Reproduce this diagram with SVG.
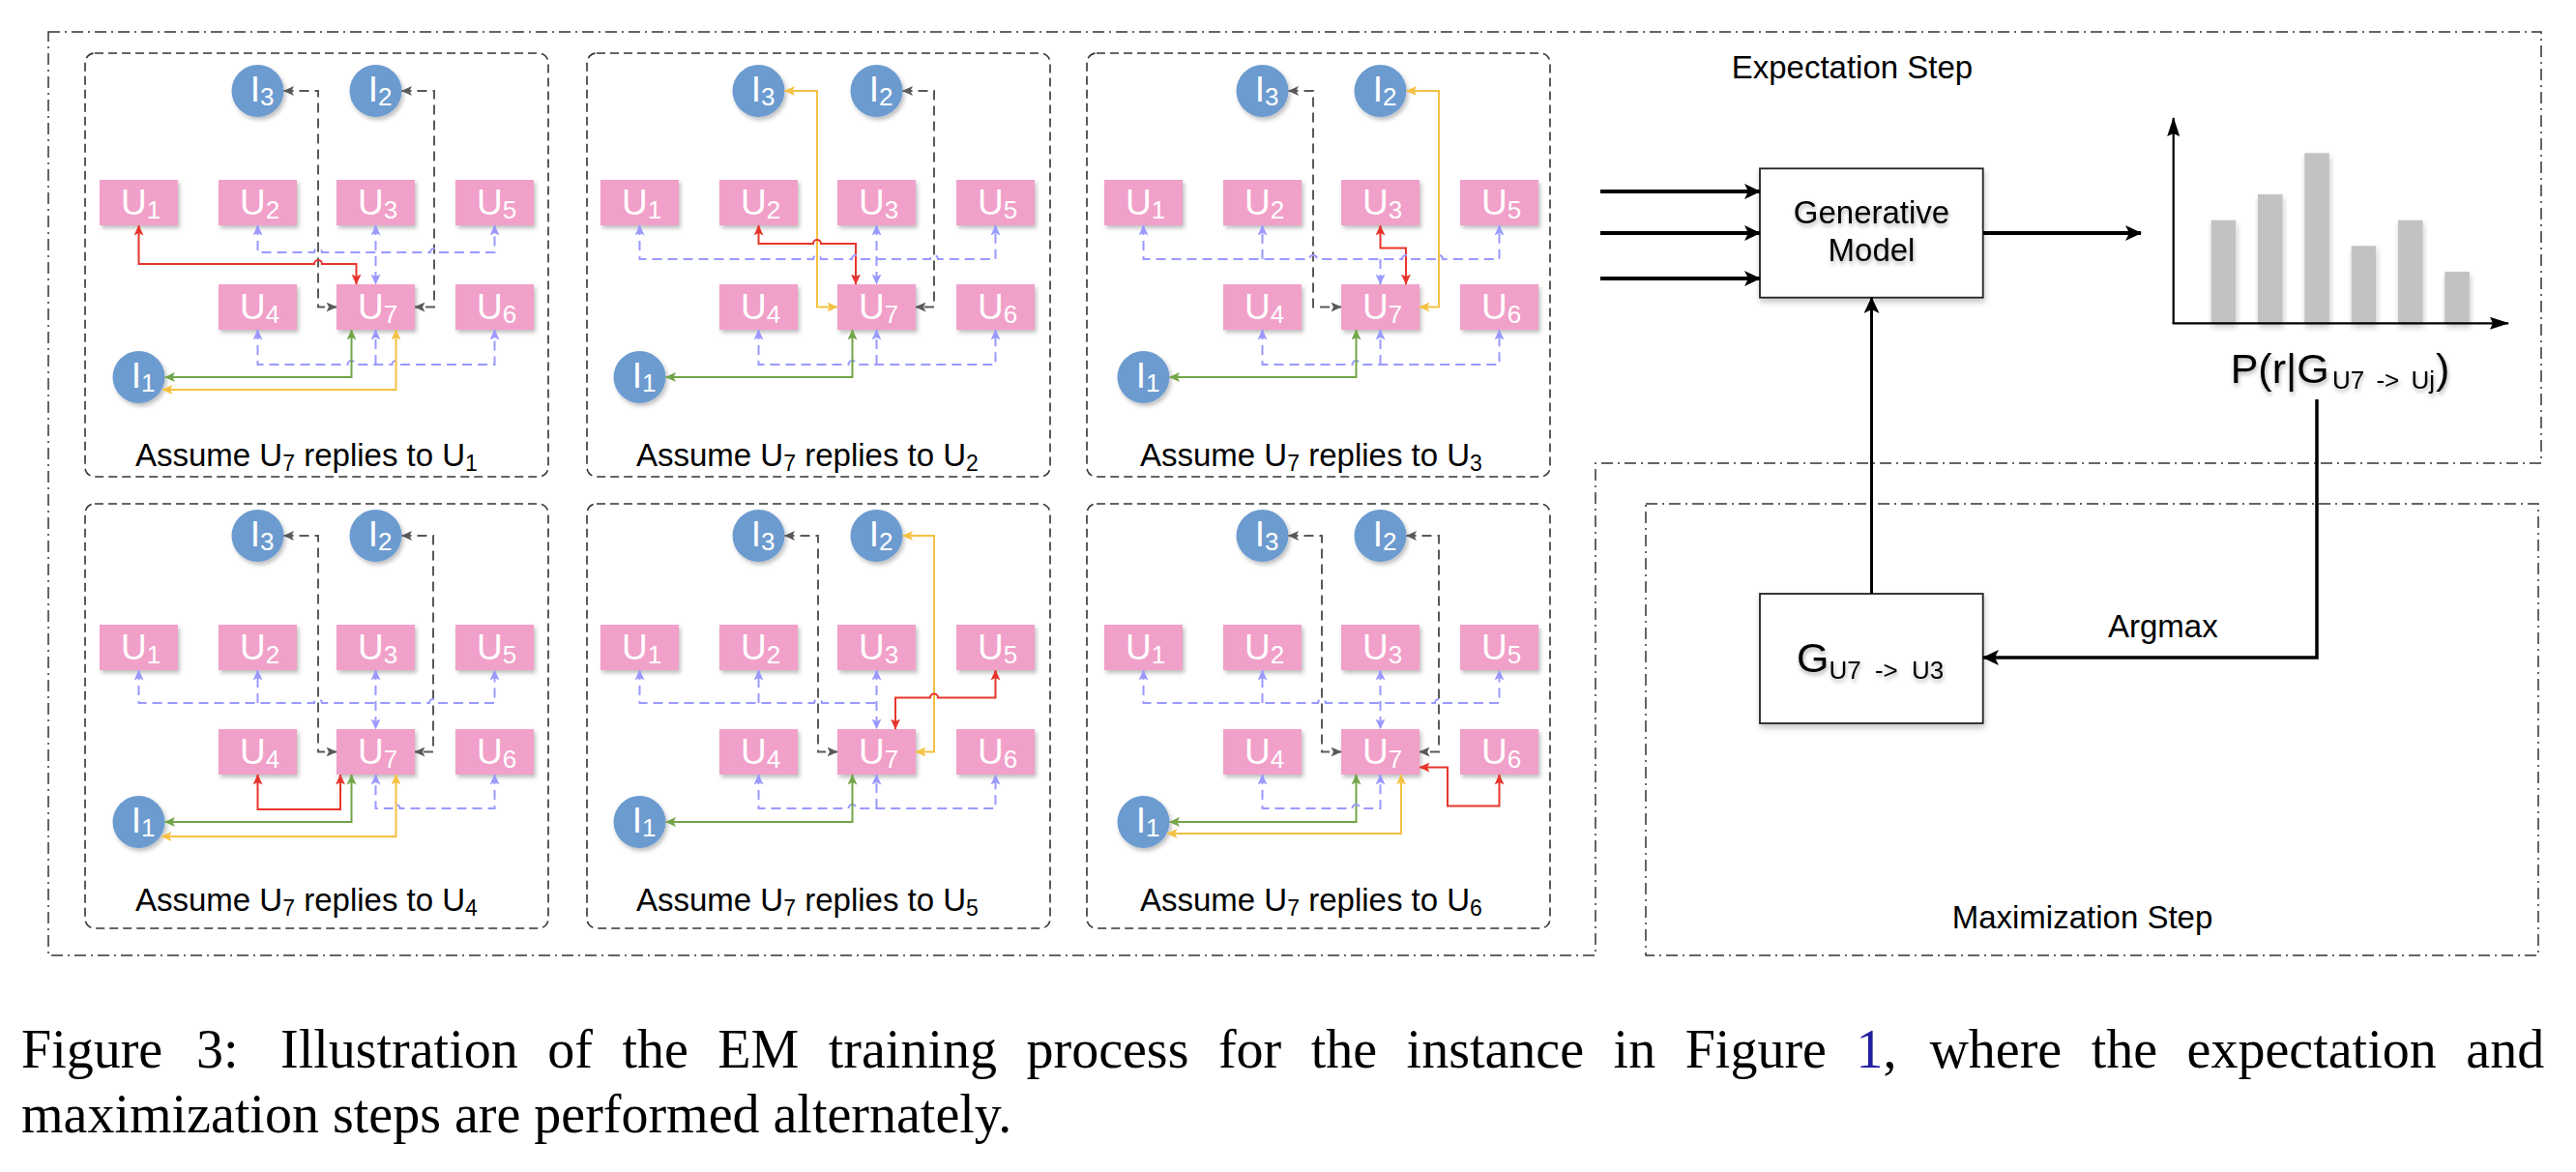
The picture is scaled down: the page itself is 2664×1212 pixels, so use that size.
<svg xmlns="http://www.w3.org/2000/svg" width="2664" height="1212" viewBox="0 0 2664 1212">
<defs>
<style>
text{font-family:"Liberation Sans",Arial,Helvetica,sans-serif}
.u rect{fill:#F1A0C9;filter:url(#sh)}
.i circle{fill:#6C9BD0;filter:url(#sh)}
.u text,.i text{fill:#fff;font-size:37px;text-anchor:middle}
.s{font-size:26px}
.lb{font-size:33px;fill:#000}
.ls{font-size:23px}
.pf{fill:none;stroke:#333;stroke-width:1.6;stroke-dasharray:9 5}
.dd{fill:none;stroke:#333;stroke-width:1.5;stroke-dasharray:12 5 2 5}
path.e{fill:none;stroke-width:2}
.bl{stroke:#9999FF;stroke-dasharray:10 6;marker-start:url(#m-bl);marker-end:url(#m-bl)}
.gr{stroke:#595959;stroke-dasharray:10 6;marker-start:url(#m-gr);marker-end:url(#m-gr)}
.rd{stroke:#E8352B;marker-start:url(#m-rd);marker-end:url(#m-rd)}
.gn{stroke:#72A548;marker-start:url(#m-gn);marker-end:url(#m-gn)}
.yl{stroke:#F5C142;marker-start:url(#m-yl);marker-end:url(#m-yl)}
path.eo{marker-start:none}
path.so{marker-end:none}
.bx{fill:#fff;stroke:#222;stroke-width:1.8;filter:url(#bsh)}
.bar{fill:#C2C2C2;filter:url(#bsh)}
.rt{font-size:33px;fill:#000}
.ts{filter:url(#tsh)}
.k{fill:none;stroke:#000}
.cap{font-family:"Liberation Serif","Times New Roman",Times,serif;font-size:56px;fill:#000}
</style>
<filter id="sh" x="-20%" y="-20%" width="150%" height="160%"><feDropShadow dx="2" dy="3" stdDeviation="2" flood-color="#000" flood-opacity="0.25"/></filter>
<filter id="bsh" x="-10%" y="-10%" width="130%" height="130%"><feDropShadow dx="1" dy="4" stdDeviation="3" flood-color="#000" flood-opacity="0.22"/></filter>
<filter id="tsh" x="-10%" y="-20%" width="130%" height="160%"><feDropShadow dx="1" dy="3" stdDeviation="2" flood-color="#000" flood-opacity="0.3"/></filter>
<marker id="m-bl" viewBox="0 0 11 10" refX="10.5" refY="5" markerWidth="11" markerHeight="10" markerUnits="userSpaceOnUse" orient="auto-start-reverse"><path d="M0,0 L11,5 L0,10 L2.5,5 Z" fill="#9999FF"/></marker>
<marker id="m-gr" viewBox="0 0 11 10" refX="10.5" refY="5" markerWidth="11" markerHeight="10" markerUnits="userSpaceOnUse" orient="auto-start-reverse"><path d="M0,0 L11,5 L0,10 L2.5,5 Z" fill="#595959"/></marker>
<marker id="m-rd" viewBox="0 0 11 10" refX="10.5" refY="5" markerWidth="11" markerHeight="10" markerUnits="userSpaceOnUse" orient="auto-start-reverse"><path d="M0,0 L11,5 L0,10 L2.5,5 Z" fill="#E8352B"/></marker>
<marker id="m-gn" viewBox="0 0 11 10" refX="10.5" refY="5" markerWidth="11" markerHeight="10" markerUnits="userSpaceOnUse" orient="auto-start-reverse"><path d="M0,0 L11,5 L0,10 L2.5,5 Z" fill="#72A548"/></marker>
<marker id="m-yl" viewBox="0 0 11 10" refX="10.5" refY="5" markerWidth="11" markerHeight="10" markerUnits="userSpaceOnUse" orient="auto-start-reverse"><path d="M0,0 L11,5 L0,10 L2.5,5 Z" fill="#F5C142"/></marker>
<marker id="m-k" viewBox="0 0 17 16" refX="16" refY="8" markerWidth="17" markerHeight="16" markerUnits="userSpaceOnUse" orient="auto"><path d="M0,0 L17,8 L0,16 L4,8 Z" fill="#000"/></marker>
<marker id="m-ax" viewBox="0 0 20 13" refX="19" refY="6.5" markerWidth="20" markerHeight="13" markerUnits="userSpaceOnUse" orient="auto"><path d="M0,0 L20,6.5 L0,13 L3,6.5 Z" fill="#000"/></marker>
</defs>

<rect width="2664" height="1212" fill="#fff"/>

<g id="frames">
<path class="dd" d="M50,33 H2628 V479 H1650 V988 H50 Z"/>
<rect class="dd" x="1702" y="521" width="923" height="467"/>
<rect class="pf" x="88" y="55" width="479" height="438" rx="10"/>
<rect class="pf" x="607" y="55" width="479" height="438" rx="10"/>
<rect class="pf" x="1124" y="55" width="479" height="438" rx="10"/>
<rect class="pf" x="88" y="521" width="479" height="439" rx="10"/>
<rect class="pf" x="607" y="521" width="479" height="439" rx="10"/>
<rect class="pf" x="1124" y="521" width="479" height="439" rx="10"/>
</g>

<g id="panel1" transform="translate(88,55)">
<g id="p1-I3" class="i"><circle cx="178.5" cy="39" r="27"/><text x="183" y="50">I<tspan class="s" dy="4">3</tspan></text></g>
<g id="p1-I2" class="i"><circle cx="300.5" cy="39" r="27"/><text x="305" y="50">I<tspan class="s" dy="4">2</tspan></text></g>
<g id="p1-I1" class="i"><circle cx="55.5" cy="335" r="27"/><text x="60" y="346">I<tspan class="s" dy="4">1</tspan></text></g>
<g id="p1-U1" class="u"><rect x="15" y="131" width="81" height="47"/><text x="57.5" y="166.7">U<tspan class="s" dy="4">1</tspan></text></g>
<g id="p1-U2" class="u"><rect x="138" y="131" width="81" height="47"/><text x="180.5" y="166.7">U<tspan class="s" dy="4">2</tspan></text></g>
<g id="p1-U3" class="u"><rect x="260" y="131" width="81" height="47"/><text x="302.5" y="166.7">U<tspan class="s" dy="4">3</tspan></text></g>
<g id="p1-U5" class="u"><rect x="383" y="131" width="81" height="47"/><text x="425.5" y="166.7">U<tspan class="s" dy="4">5</tspan></text></g>
<g id="p1-U4" class="u"><rect x="138" y="239" width="81" height="47"/><text x="180.5" y="274.7">U<tspan class="s" dy="4">4</tspan></text></g>
<g id="p1-U7" class="u"><rect x="260" y="239" width="81" height="47"/><text x="302.5" y="274.7">U<tspan class="s" dy="4">7</tspan></text></g>
<g id="p1-U6" class="u"><rect x="383" y="239" width="81" height="47"/><text x="425.5" y="274.7">U<tspan class="s" dy="4">6</tspan></text></g>
<text class="lb" x="52" y="426.7">Assume U<tspan class="ls" dy="5">7</tspan><tspan dy="-5"> replies to U</tspan><tspan class="ls" dy="5">1</tspan></text>
</g>

<g id="panel2" transform="translate(606,55)">
<g id="p2-I3" class="i"><circle cx="178.5" cy="39" r="27"/><text x="183" y="50">I<tspan class="s" dy="4">3</tspan></text></g>
<g id="p2-I2" class="i"><circle cx="300.5" cy="39" r="27"/><text x="305" y="50">I<tspan class="s" dy="4">2</tspan></text></g>
<g id="p2-I1" class="i"><circle cx="55.5" cy="335" r="27"/><text x="60" y="346">I<tspan class="s" dy="4">1</tspan></text></g>
<g id="p2-U1" class="u"><rect x="15" y="131" width="81" height="47"/><text x="57.5" y="166.7">U<tspan class="s" dy="4">1</tspan></text></g>
<g id="p2-U2" class="u"><rect x="138" y="131" width="81" height="47"/><text x="180.5" y="166.7">U<tspan class="s" dy="4">2</tspan></text></g>
<g id="p2-U3" class="u"><rect x="260" y="131" width="81" height="47"/><text x="302.5" y="166.7">U<tspan class="s" dy="4">3</tspan></text></g>
<g id="p2-U5" class="u"><rect x="383" y="131" width="81" height="47"/><text x="425.5" y="166.7">U<tspan class="s" dy="4">5</tspan></text></g>
<g id="p2-U4" class="u"><rect x="138" y="239" width="81" height="47"/><text x="180.5" y="274.7">U<tspan class="s" dy="4">4</tspan></text></g>
<g id="p2-U7" class="u"><rect x="260" y="239" width="81" height="47"/><text x="302.5" y="274.7">U<tspan class="s" dy="4">7</tspan></text></g>
<g id="p2-U6" class="u"><rect x="383" y="239" width="81" height="47"/><text x="425.5" y="274.7">U<tspan class="s" dy="4">6</tspan></text></g>
<text class="lb" x="52" y="426.7">Assume U<tspan class="ls" dy="5">7</tspan><tspan dy="-5"> replies to U</tspan><tspan class="ls" dy="5">2</tspan></text>
</g>

<g id="panel3" transform="translate(1127,55)">
<g id="p3-I3" class="i"><circle cx="178.5" cy="39" r="27"/><text x="183" y="50">I<tspan class="s" dy="4">3</tspan></text></g>
<g id="p3-I2" class="i"><circle cx="300.5" cy="39" r="27"/><text x="305" y="50">I<tspan class="s" dy="4">2</tspan></text></g>
<g id="p3-I1" class="i"><circle cx="55.5" cy="335" r="27"/><text x="60" y="346">I<tspan class="s" dy="4">1</tspan></text></g>
<g id="p3-U1" class="u"><rect x="15" y="131" width="81" height="47"/><text x="57.5" y="166.7">U<tspan class="s" dy="4">1</tspan></text></g>
<g id="p3-U2" class="u"><rect x="138" y="131" width="81" height="47"/><text x="180.5" y="166.7">U<tspan class="s" dy="4">2</tspan></text></g>
<g id="p3-U3" class="u"><rect x="260" y="131" width="81" height="47"/><text x="302.5" y="166.7">U<tspan class="s" dy="4">3</tspan></text></g>
<g id="p3-U5" class="u"><rect x="383" y="131" width="81" height="47"/><text x="425.5" y="166.7">U<tspan class="s" dy="4">5</tspan></text></g>
<g id="p3-U4" class="u"><rect x="138" y="239" width="81" height="47"/><text x="180.5" y="274.7">U<tspan class="s" dy="4">4</tspan></text></g>
<g id="p3-U7" class="u"><rect x="260" y="239" width="81" height="47"/><text x="302.5" y="274.7">U<tspan class="s" dy="4">7</tspan></text></g>
<g id="p3-U6" class="u"><rect x="383" y="239" width="81" height="47"/><text x="425.5" y="274.7">U<tspan class="s" dy="4">6</tspan></text></g>
<text class="lb" x="52" y="426.7">Assume U<tspan class="ls" dy="5">7</tspan><tspan dy="-5"> replies to U</tspan><tspan class="ls" dy="5">3</tspan></text>
</g>

<g id="panel4" transform="translate(88,515)">
<g id="p4-I3" class="i"><circle cx="178.5" cy="39" r="27"/><text x="183" y="50">I<tspan class="s" dy="4">3</tspan></text></g>
<g id="p4-I2" class="i"><circle cx="300.5" cy="39" r="27"/><text x="305" y="50">I<tspan class="s" dy="4">2</tspan></text></g>
<g id="p4-I1" class="i"><circle cx="55.5" cy="335" r="27"/><text x="60" y="346">I<tspan class="s" dy="4">1</tspan></text></g>
<g id="p4-U1" class="u"><rect x="15" y="131" width="81" height="47"/><text x="57.5" y="166.7">U<tspan class="s" dy="4">1</tspan></text></g>
<g id="p4-U2" class="u"><rect x="138" y="131" width="81" height="47"/><text x="180.5" y="166.7">U<tspan class="s" dy="4">2</tspan></text></g>
<g id="p4-U3" class="u"><rect x="260" y="131" width="81" height="47"/><text x="302.5" y="166.7">U<tspan class="s" dy="4">3</tspan></text></g>
<g id="p4-U5" class="u"><rect x="383" y="131" width="81" height="47"/><text x="425.5" y="166.7">U<tspan class="s" dy="4">5</tspan></text></g>
<g id="p4-U4" class="u"><rect x="138" y="239" width="81" height="47"/><text x="180.5" y="274.7">U<tspan class="s" dy="4">4</tspan></text></g>
<g id="p4-U7" class="u"><rect x="260" y="239" width="81" height="47"/><text x="302.5" y="274.7">U<tspan class="s" dy="4">7</tspan></text></g>
<g id="p4-U6" class="u"><rect x="383" y="239" width="81" height="47"/><text x="425.5" y="274.7">U<tspan class="s" dy="4">6</tspan></text></g>
<text class="lb" x="52" y="426.7">Assume U<tspan class="ls" dy="5">7</tspan><tspan dy="-5"> replies to U</tspan><tspan class="ls" dy="5">4</tspan></text>
</g>

<g id="panel5" transform="translate(606,515)">
<g id="p5-I3" class="i"><circle cx="178.5" cy="39" r="27"/><text x="183" y="50">I<tspan class="s" dy="4">3</tspan></text></g>
<g id="p5-I2" class="i"><circle cx="300.5" cy="39" r="27"/><text x="305" y="50">I<tspan class="s" dy="4">2</tspan></text></g>
<g id="p5-I1" class="i"><circle cx="55.5" cy="335" r="27"/><text x="60" y="346">I<tspan class="s" dy="4">1</tspan></text></g>
<g id="p5-U1" class="u"><rect x="15" y="131" width="81" height="47"/><text x="57.5" y="166.7">U<tspan class="s" dy="4">1</tspan></text></g>
<g id="p5-U2" class="u"><rect x="138" y="131" width="81" height="47"/><text x="180.5" y="166.7">U<tspan class="s" dy="4">2</tspan></text></g>
<g id="p5-U3" class="u"><rect x="260" y="131" width="81" height="47"/><text x="302.5" y="166.7">U<tspan class="s" dy="4">3</tspan></text></g>
<g id="p5-U5" class="u"><rect x="383" y="131" width="81" height="47"/><text x="425.5" y="166.7">U<tspan class="s" dy="4">5</tspan></text></g>
<g id="p5-U4" class="u"><rect x="138" y="239" width="81" height="47"/><text x="180.5" y="274.7">U<tspan class="s" dy="4">4</tspan></text></g>
<g id="p5-U7" class="u"><rect x="260" y="239" width="81" height="47"/><text x="302.5" y="274.7">U<tspan class="s" dy="4">7</tspan></text></g>
<g id="p5-U6" class="u"><rect x="383" y="239" width="81" height="47"/><text x="425.5" y="274.7">U<tspan class="s" dy="4">6</tspan></text></g>
<text class="lb" x="52" y="426.7">Assume U<tspan class="ls" dy="5">7</tspan><tspan dy="-5"> replies to U</tspan><tspan class="ls" dy="5">5</tspan></text>
</g>

<g id="panel6" transform="translate(1127,515)">
<g id="p6-I3" class="i"><circle cx="178.5" cy="39" r="27"/><text x="183" y="50">I<tspan class="s" dy="4">3</tspan></text></g>
<g id="p6-I2" class="i"><circle cx="300.5" cy="39" r="27"/><text x="305" y="50">I<tspan class="s" dy="4">2</tspan></text></g>
<g id="p6-I1" class="i"><circle cx="55.5" cy="335" r="27"/><text x="60" y="346">I<tspan class="s" dy="4">1</tspan></text></g>
<g id="p6-U1" class="u"><rect x="15" y="131" width="81" height="47"/><text x="57.5" y="166.7">U<tspan class="s" dy="4">1</tspan></text></g>
<g id="p6-U2" class="u"><rect x="138" y="131" width="81" height="47"/><text x="180.5" y="166.7">U<tspan class="s" dy="4">2</tspan></text></g>
<g id="p6-U3" class="u"><rect x="260" y="131" width="81" height="47"/><text x="302.5" y="166.7">U<tspan class="s" dy="4">3</tspan></text></g>
<g id="p6-U5" class="u"><rect x="383" y="131" width="81" height="47"/><text x="425.5" y="166.7">U<tspan class="s" dy="4">5</tspan></text></g>
<g id="p6-U4" class="u"><rect x="138" y="239" width="81" height="47"/><text x="180.5" y="274.7">U<tspan class="s" dy="4">4</tspan></text></g>
<g id="p6-U7" class="u"><rect x="260" y="239" width="81" height="47"/><text x="302.5" y="274.7">U<tspan class="s" dy="4">7</tspan></text></g>
<g id="p6-U6" class="u"><rect x="383" y="239" width="81" height="47"/><text x="425.5" y="274.7">U<tspan class="s" dy="4">6</tspan></text></g>
<text class="lb" x="52" y="426.7">Assume U<tspan class="ls" dy="5">7</tspan><tspan dy="-5"> replies to U</tspan><tspan class="ls" dy="5">6</tspan></text>
</g>

<g id="gen-model"><rect class="bx" x="1820" y="174.3" width="230.7" height="133.4"/><g class="ts"><text class="rt" x="1935.5" y="230.7" text-anchor="middle">Generative</text><text class="rt" x="1935.5" y="270" text-anchor="middle">Model</text></g></g>
<g id="g-box"><rect class="bx" x="1820" y="614" width="230.7" height="134"/><text class="ts" x="1858" y="695.3" font-size="43">G<tspan font-size="26" dy="6.7" word-spacing="7">U7 -&gt; U3</tspan></text></g>
<g id="chart">
<rect class="bar" x="2286.7" y="227.7" width="25.5" height="106.6"/>
<rect class="bar" x="2335" y="201" width="25.5" height="133.3"/>
<rect class="bar" x="2383.3" y="158.3" width="25.5" height="176"/>
<rect class="bar" x="2431.7" y="254.3" width="25.5" height="80"/>
<rect class="bar" x="2480" y="227.7" width="25.5" height="106.6"/>
<rect class="bar" x="2528.3" y="281" width="25.5" height="53.3"/>
<path class="k" stroke-width="2.2" d="M2247.7,334.3 V122" marker-end="url(#m-ax)"/>
<path class="k" stroke-width="2.2" d="M2246.6,334.3 H2594" marker-end="url(#m-ax)"/>
</g>
<g id="p-label"><text class="ts" x="2306.7" y="396" font-size="43">P(r|G<tspan x="2412" dy="5.7" font-size="26" word-spacing="5">U7 -&gt; Uj</tspan><tspan x="2519" dy="-5.7">)</tspan></text></g>
<g id="e-step-label"><text class="rt" x="1790.7" y="80.7">Expectation Step</text></g>
<g id="m-step-label"><text class="rt" x="2018.7" y="960" font-size="33.5">Maximization Step</text></g>
<g id="argmax-label"><text class="rt" x="2180" y="659">Argmax</text></g>

<g id="connectors">
<g id="p1-edges" transform="translate(88,55)">
<path class="e gr" d="M205.5,39 H241 V262.5 H260"/>
<path class="e gr" d="M327.5,39 H361 V262.5 H341"/>
<path class="e bl" d="M178.5,178 V206 H237 a4,4 0 0 1 8,0 H357 a4,4 0 0 1 8,0 H423.5 V178"/>
<path class="e bl" d="M300.5,178 V239"/>
<path class="e bl" d="M178.5,286 V322 H271.5 a4,4 0 0 1 8,0 H317.5 a4,4 0 0 1 8,0 H423.5 V286"/>
<path class="e bl eo" d="M300.5,322 V286"/>
<path class="e rd" d="M55.5,178 V218 H237 a4,4 0 0 1 8,0 H280.5 V239"/>
<path class="e gn" d="M275.5,286 V335 H82.5"/>
<path class="e yl" d="M321.5,286 V348 H80"/>
</g>
<g id="p2-edges" transform="translate(606,55)">
<path class="e yl" d="M205.5,39 H239 V262.5 H260"/>
<path class="e gr" d="M327.5,39 H360 V262.5 H341"/>
<path class="e rd" d="M178.5,178 V197 H235 a4,4 0 0 1 8,0 H279 V239"/>
<path class="e bl" d="M55.5,178 V213 H235 a4,4 0 0 1 8,0 H275 a4,4 0 0 1 8,0 H356 a4,4 0 0 1 8,0 H423.5 V178"/>
<path class="e bl" d="M300.5,178 V239"/>
<path class="e bl" d="M178.5,286 V322 H271.5 a4,4 0 0 1 8,0 H423.5 V286"/>
<path class="e bl eo" d="M300.5,322 V286"/>
<path class="e gn" d="M275.5,286 V335 H82.5"/>
</g>
<g id="p3-edges" transform="translate(1127,55)">
<path class="e gr" d="M205.5,39 H231 V262.5 H260"/>
<path class="e yl" d="M327.5,39 H361 V262.5 H341"/>
<path class="e rd" d="M300.5,178 V201.5 H327 V239"/>
<path class="e bl" d="M55.5,178 V213 H227 a4,4 0 0 1 8,0 H323 a4,4 0 0 1 8,0 H357 a4,4 0 0 1 8,0 H423.5 V178"/>
<path class="e bl eo" d="M178.5,213 V178"/>
<path class="e bl eo" d="M300.5,213 V239"/>
<path class="e bl" d="M178.5,286 V322 H271.5 a4,4 0 0 1 8,0 H423.5 V286"/>
<path class="e bl eo" d="M300.5,322 V286"/>
<path class="e gn" d="M275.5,286 V335 H82.5"/>
</g>
<g id="p4-edges" transform="translate(88,515)">
<path class="e gr" d="M205.5,39 H241 V262.5 H260"/>
<path class="e gr" d="M327.5,39 H360 V262.5 H341"/>
<path class="e bl" d="M55.5,178 V212 H237 a4,4 0 0 1 8,0 H356 a4,4 0 0 1 8,0 H423.5 V178"/>
<path class="e bl eo" d="M178.5,212 V178"/>
<path class="e bl" d="M300.5,178 V239"/>
<path class="e rd" d="M178.5,286 V322 H264 V286"/>
<path class="e gn" d="M275.5,286 V335 H82.5"/>
<path class="e yl" d="M321.5,286 V350 H79"/>
<path class="e bl" d="M423.5,286 V321 H325.5 a4,4 0 0 0 -8,0 H300.5 V286"/>
</g>
<g id="p5-edges" transform="translate(606,515)">
<path class="e gr" d="M205.5,39 H240 V262.5 H260"/>
<path class="e yl" d="M327.5,39 H360 V262.5 H341"/>
<path class="e rd" d="M423.5,178 V206.5 H364 a4,4 0 0 0 -8,0 H320 V239"/>
<path class="e bl so" d="M55.5,178 V212 H236 a4,4 0 0 1 8,0 H300.5"/>
<path class="e bl eo" d="M178.5,212 V178"/>
<path class="e bl" d="M300.5,178 V239"/>
<path class="e bl" d="M178.5,286 V321 H271.5 a4,4 0 0 1 8,0 H423.5 V286"/>
<path class="e bl eo" d="M300.5,321 V286"/>
<path class="e gn" d="M275.5,286 V335 H82.5"/>
</g>
<g id="p6-edges" transform="translate(1127,515)">
<path class="e gr" d="M205.5,39 H240 V262.5 H260"/>
<path class="e gr" d="M327.5,39 H361 V262.5 H341"/>
<path class="e bl" d="M55.5,178 V212 H236 a4,4 0 0 1 8,0 H357 a4,4 0 0 1 8,0 H423.5 V178"/>
<path class="e bl eo" d="M178.5,212 V178"/>
<path class="e bl" d="M300.5,178 V239"/>
<path class="e rd" d="M423.5,286 V318.5 H370 V278.5 H341"/>
<path class="e gn" d="M275.5,286 V335 H82.5"/>
<path class="e yl" d="M322,286 V347 H80"/>
<path class="e bl" d="M178.5,286 V321 H271.5 a4,4 0 0 1 8,0 H300.5 V286"/>
</g>
<g id="main-edges">
<path class="k" stroke-width="4" d="M1655,198 H1820" marker-end="url(#m-k)"/>
<path class="k" stroke-width="4" d="M1655,241 H1820" marker-end="url(#m-k)"/>
<path class="k" stroke-width="4" d="M1655,288 H1820" marker-end="url(#m-k)"/>
<path class="k" stroke-width="4" d="M2051,241 H2214" marker-end="url(#m-k)"/>
<path class="k" stroke-width="3" d="M1935.5,614 V308" marker-end="url(#m-k)"/>
<path class="k" stroke-width="3.5" d="M2396,413 V680 H2051" marker-end="url(#m-k)"/>
</g>
</g>

<g id="caption">
<text class="cap" y="1104"><tspan x="22">Figure </tspan><tspan x="203">3: </tspan><tspan x="290">Illustration </tspan><tspan x="566.3">of </tspan><tspan x="643.4">the </tspan><tspan x="742.3">EM </tspan><tspan x="856.8">training </tspan><tspan x="1061.5">process </tspan><tspan x="1259.9">for </tspan><tspan x="1355.7">the </tspan><tspan x="1454.6">instance </tspan><tspan x="1668.6">in </tspan><tspan x="1742.7">Figure </tspan><tspan x="1919.4" fill="#1F1FA0">1</tspan><tspan>, </tspan><tspan x="1995.4">where </tspan><tspan x="2162.7">the </tspan><tspan x="2261.6">expectation </tspan><tspan x="2550.3">and</tspan></text>
<text class="cap" x="22" y="1171">maximization steps are performed alternately.</text>
</g>
</svg>
